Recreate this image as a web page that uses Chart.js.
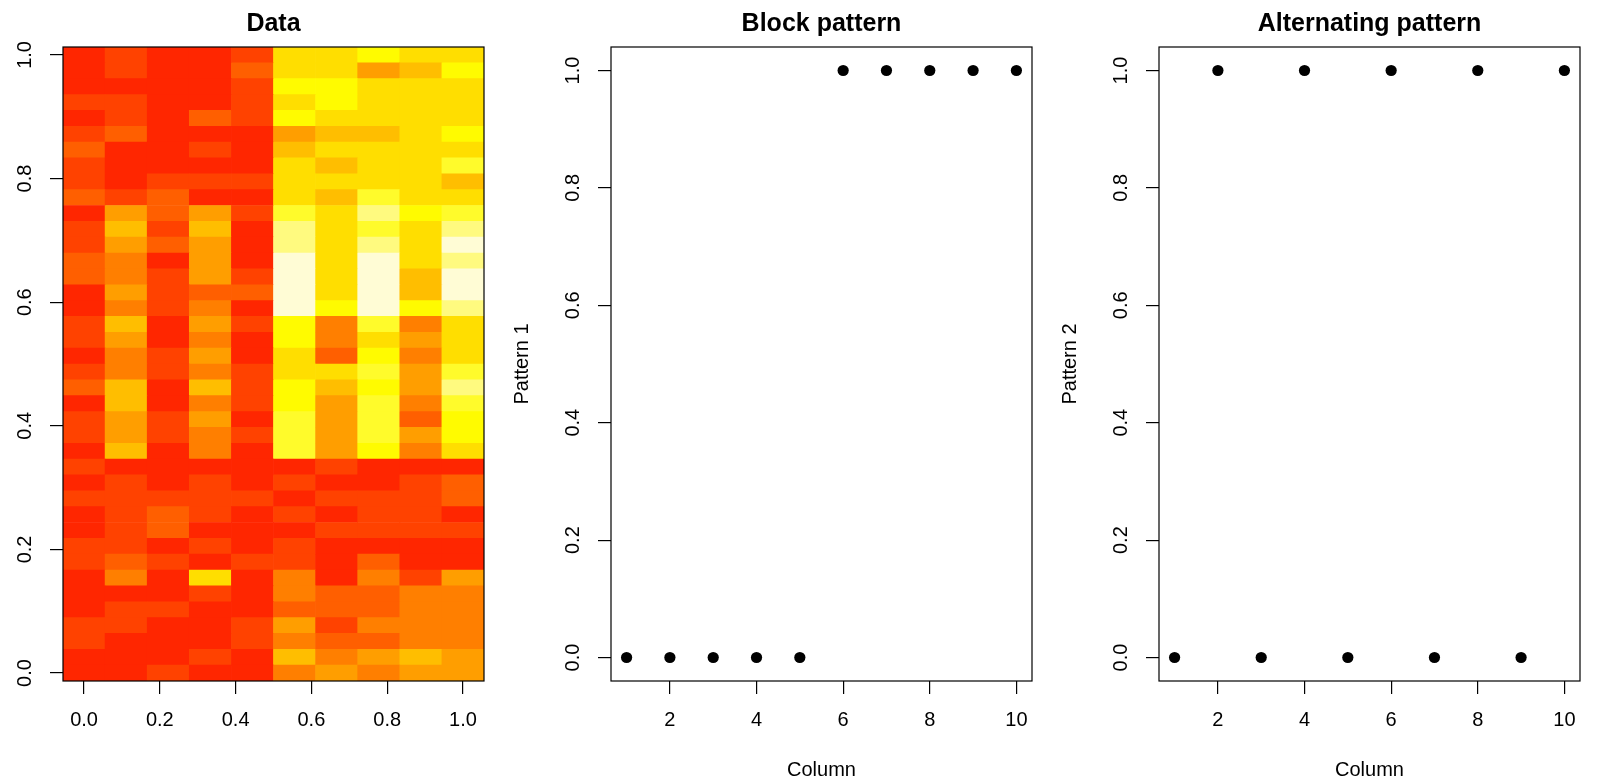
<html>

<head>
    <meta charset="utf-8">
    <style>
        body { margin: 0; width: 1598px; height: 782px; background: #fff; position: relative; overflow: hidden; }
        canvas { position: absolute; top: 0; }
    </style>
</head>

<body>
    <script src="https://cdn.jsdelivr.net/npm/chart.js"></script>

    <canvas id="heat" width="500" height="782" style="left:0px"></canvas>
    <canvas id="block" width="548" height="782" style="left:500px"></canvas>
    <canvas id="alt" width="550" height="782" style="left:1048px"></canvas>

    <script>
        // heat.colors levels as they show in the picture (low = red, high = cream)
        const heatColors = ['#FF2600', '#FF4200', '#FF5F00', '#FF7F00', '#FF9E00', '#FFBE00',
            '#FFDE00', '#FFFB00', '#FFFB2B', '#FFFA7F', '#FFFCD5'];

        // colour level of every cell, top row (y = 1.0) first, 10 columns each
        const dataLevels = [
            [0, 1, 0, 0, 1, 6, 6, 7, 6, 6],
            [0, 1, 0, 0, 2, 6, 6, 4, 5, 7],
            [0, 0, 0, 0, 1, 7, 7, 6, 6, 6],
            [1, 1, 0, 0, 1, 6, 7, 6, 6, 6],
            [0, 1, 0, 2, 1, 7, 6, 6, 6, 6],
            [1, 2, 0, 0, 0, 4, 5, 5, 6, 7],
            [2, 0, 0, 1, 0, 5, 6, 6, 6, 6],
            [1, 0, 0, 0, 0, 6, 5, 6, 6, 8],
            [1, 0, 1, 1, 1, 6, 6, 6, 6, 5],
            [2, 1, 2, 0, 0, 6, 5, 8, 6, 6],
            [0, 4, 2, 4, 1, 8, 6, 9, 7, 8],
            [1, 5, 1, 5, 0, 9, 6, 8, 6, 9],
            [1, 4, 2, 4, 0, 9, 6, 9, 6, 10],
            [2, 3, 0, 4, 0, 10, 6, 10, 6, 9],
            [2, 3, 1, 4, 1, 10, 6, 10, 5, 10],
            [0, 4, 1, 2, 2, 10, 6, 10, 5, 10],
            [0, 3, 1, 3, 0, 10, 7, 10, 7, 9],
            [1, 5, 0, 4, 1, 7, 3, 8, 3, 6],
            [1, 4, 0, 3, 0, 7, 3, 6, 4, 6],
            [0, 3, 1, 4, 0, 6, 2, 7, 3, 6],
            [1, 3, 1, 3, 1, 6, 6, 8, 4, 8],
            [2, 5, 0, 5, 1, 7, 5, 7, 4, 9],
            [0, 5, 0, 3, 1, 7, 4, 8, 3, 8],
            [1, 4, 1, 4, 0, 8, 4, 8, 2, 7],
            [1, 4, 1, 3, 1, 8, 4, 8, 4, 7],
            [0, 5, 0, 3, 0, 8, 4, 7, 3, 6],
            [1, 0, 0, 0, 0, 0, 1, 0, 0, 0],
            [0, 1, 0, 1, 0, 1, 0, 0, 1, 2],
            [1, 1, 1, 1, 1, 0, 1, 1, 1, 2],
            [0, 1, 2, 1, 0, 1, 0, 1, 1, 0],
            [0, 1, 2, 0, 0, 0, 1, 1, 1, 1],
            [1, 1, 0, 1, 0, 1, 0, 0, 0, 0],
            [1, 2, 1, 0, 1, 1, 0, 2, 0, 0],
            [0, 3, 0, 6, 0, 3, 0, 3, 1, 4],
            [0, 0, 0, 1, 0, 3, 2, 2, 3, 3],
            [0, 1, 1, 0, 0, 2, 2, 2, 3, 3],
            [1, 1, 0, 0, 1, 4, 1, 3, 3, 3],
            [1, 0, 0, 0, 1, 3, 2, 2, 3, 3],
            [0, 0, 0, 1, 0, 5, 3, 4, 5, 4],
            [0, 0, 1, 0, 0, 3, 4, 3, 4, 4]
        ];

        const columns = [1, 2, 3, 4, 5, 6, 7, 8, 9, 10];
        const pattern1 = [0, 0, 0, 0, 0, 1, 1, 1, 1, 1];
        const pattern2 = [0, 1, 0, 1, 0, 1, 0, 1, 0, 1];

        const unitTicks = [0, 0.2, 0.4, 0.6, 0.8, 1.0];
        const columnTicks = [2, 4, 6, 8, 10];

        Chart.defaults.font.family = "'Liberation Sans', Arial, Helvetica, sans-serif";
        Chart.defaults.font.size = 20;
        Chart.defaults.color = '#000';
        Chart.defaults.animation = false;

        // R's box() round the plot region
        const boxPlugin = {
            id: 'box',
            afterDraw(chart) {
                const { ctx, chartArea: a } = chart;
                ctx.save();
                ctx.strokeStyle = '#000';
                ctx.lineWidth = 1.2;
                ctx.strokeRect(a.left, a.top, a.right - a.left, a.bottom - a.top);
                ctx.restore();
            }
        };

        function xAxis(min, max, ticks, fmt, title) {
            return {
                type: 'linear', min, max, offset: false,
                afterBuildTicks(s) { s.ticks = ticks.map(v => ({ value: v })); },
                afterFit(s) { s.height = 101; s.paddingLeft = 0; s.paddingRight = 0; },
                grid: { offset: false, drawOnChartArea: false, drawTicks: true, tickLength: 13, color: '#000', tickColor: '#000', lineWidth: 1.2 },
                border: { display: false },
                ticks: { padding: 14.5, maxRotation: 0, minRotation: 0, autoSkip: false, callback: fmt },
                title: { display: !!title, text: title || '', padding: { top: 0, bottom: 0 } }
            };
        }

        function yAxis(min, max, width, title) {
            return {
                type: 'linear', min, max,
                afterBuildTicks(s) { s.ticks = unitTicks.map(v => ({ value: v })); },
                afterFit(s) { s.width = width; s.paddingTop = 0; s.paddingBottom = 0; },
                grid: { offset: false, drawOnChartArea: false, drawTicks: true, tickLength: 13, color: '#000', tickColor: '#000', lineWidth: 1.2 },
                border: { display: false },
                ticks: { padding: 11, minRotation: 90, maxRotation: 90, crossAlign: 'center', autoSkip: false, callback: v => v.toFixed(1) },
                title: { display: !!title, text: title || '', padding: { top: 10.5, bottom: 0 } }
            };
        }

        function titleOpts(text) {
            return {
                display: true, text, fullSize: false, align: 'center',
                font: { size: 25, weight: 'bold' },
                padding: { top: 8.7, bottom: 8.3 }
            };
        }

        // heat map: one floating bar per cell
        const nRows = dataLevels.length;
        const nCols = columns.length;
        const halfH = 1 / (2 * (nRows - 1));
        const halfW = 1 / (2 * (nCols - 1));
        const cells = [];
        const cellColors = [];
        dataLevels.forEach((row, r) => {
            const yc = (nRows - 1 - r) / (nRows - 1);
            row.forEach((lv, c) => {
                cells.push({ x: c / (nCols - 1), y: [yc - halfH, yc + halfH] });
                cellColors.push(heatColors[lv]);
            });
        });

        new Chart(document.getElementById('heat'), {
            type: 'bar',
            data: {
                datasets: [{
                    data: cells,
                    backgroundColor: cellColors,
                    borderWidth: 0,
                    barPercentage: 1,
                    categoryPercentage: 1
                }]
            },
            options: {
                responsive: false,
                layout: { autoPadding: false, padding: { left: 0, right: 16, top: 0, bottom: 0 } },
                scales: {
                    x: xAxis(-halfW, 1 + halfW, unitTicks, v => v.toFixed(1)),
                    y: yAxis(-halfH, 1 + halfH, 63)
                },
                plugins: { legend: { display: false }, tooltip: { enabled: false }, title: titleOpts('Data') }
            },
            plugins: [boxPlugin]
        });

        function scatterPanel(id, values, label, title, rightPad) {
            new Chart(document.getElementById(id), {
                type: 'scatter',
                data: {
                    datasets: [{
                        data: columns.map((c, i) => ({ x: c, y: values[i] })),
                        pointRadius: 5.6,
                        pointHoverRadius: 5.6,
                        pointBackgroundColor: '#000',
                        pointBorderWidth: 0,
                        showLine: false
                    }]
                },
                options: {
                    responsive: false,
                    layout: { autoPadding: false, padding: { left: 0, right: rightPad, top: 0, bottom: 0 } },
                    scales: {
                        x: xAxis(0.64, 10.36, columnTicks, v => String(v), 'Column'),
                        y: yAxis(-0.04, 1.04, 111, label)
                    },
                    plugins: { legend: { display: false }, tooltip: { enabled: false }, title: titleOpts(title) }
                },
                plugins: [boxPlugin]
            });
        }

        scatterPanel('block', pattern1, 'Pattern 1', 'Block pattern', 16);
        scatterPanel('alt', pattern2, 'Pattern 2', 'Alternating pattern', 18);
    </script>

</body>

</html>
